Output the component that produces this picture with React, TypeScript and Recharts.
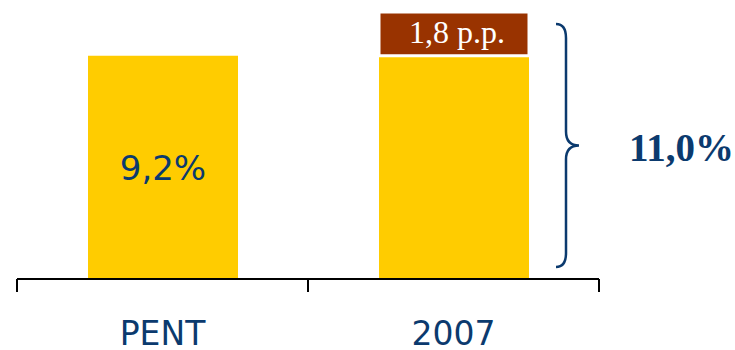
import { Bar, BarChart, LabelList, XAxis, YAxis } from "recharts";

const CATEGORIES = ["PENT", "2007"];
const BASE = [9.2, 9.2];
const INCREMENT = [0, 1.8];
const BASE_LABELS = ["9,2%", ""];
const INCREMENT_LABELS = ["", "1,8 p.p."];
const TOTAL_LABEL = "11,0%";
const Y_MAX = 11.0;

const W = 735;
const H = 350;
const MARGIN = { top: 12, right: 136, bottom: 0, left: 17 };
const X_AXIS_H = 71;
const PLOT_BOTTOM = H - X_AXIS_H;

const NAVY = "#0B3A6E";
const YELLOW = "#FFCC00";
const BROWN = "#993300";
const SANS = "'DejaVu Sans', Verdana, sans-serif";
const SERIF = "'Liberation Serif', 'Times New Roman', serif";

const data = CATEGORIES.map((name, i) => ({
  name,
  base: BASE[i],
  increment: INCREMENT[i],
  baseLabel: BASE_LABELS[i],
  incLabel: INCREMENT_LABELS[i],
}));

/** Category label plus Excel-style tick marks at the band boundaries. */
function CategoryTick(props: any) {
  const { x, payload } = props;
  const band = (W - MARGIN.left - MARGIN.right) / CATEGORIES.length;
  const left = x - band / 2;
  const isLast = CATEGORIES.indexOf(payload.value) === CATEGORIES.length - 1;
  return (
    <g>
      <line x1={left} y1={PLOT_BOTTOM} x2={left} y2={PLOT_BOTTOM + 13} stroke="#000" strokeWidth={2} />
      {isLast && (
        <line
          x1={left + band}
          y1={PLOT_BOTTOM}
          x2={left + band}
          y2={PLOT_BOTTOM + 13}
          stroke="#000"
          strokeWidth={2}
        />
      )}
      <text x={x} y={PLOT_BOTTOM + 66} textAnchor="middle" fill={NAVY} fontFamily={SANS} fontSize={33}>
        {payload.value}
      </text>
    </g>
  );
}

function BaseLabel(props: any) {
  const { x, y, width, height, value } = props;
  if (!value) return null;
  return (
    <text
      x={x + width / 2}
      y={y + height / 2}
      dy="0.36em"
      textAnchor="middle"
      fill={NAVY}
      fontFamily={SANS}
      fontSize={34}
    >
      {value}
    </text>
  );
}

/** Increment label, plus the brace and total to the right of the stack. */
function IncrementLabel(props: any) {
  const { x, y, width, height, value } = props;
  const i = INCREMENT_LABELS.indexOf(value);
  if (!value || i < 0 || !height) return null;
  const pxPerUnit = Math.abs(height) / INCREMENT[i];
  const top = Math.min(y, y + height);
  const bottom = top + Math.abs(height) + BASE[i] * pxPerUnit;
  const right = x + width;
  const ty = top + 12;
  const by = bottom - 12;
  const mid = (ty + by) / 2;
  const x0 = right + 27;
  const xs = right + 37;
  const xt = right + 50;
  const r = 14;
  const d = [
    `M ${x0} ${ty}`,
    `Q ${xs} ${ty} ${xs} ${ty + r}`,
    `L ${xs} ${mid - r}`,
    `Q ${xs} ${mid} ${xt} ${mid}`,
    `Q ${xs} ${mid} ${xs} ${mid + r}`,
    `L ${xs} ${by - r}`,
    `Q ${xs} ${by} ${x0} ${by}`,
  ].join(" ");
  return (
    <g>
      <text
        x={x + width / 2 + 3}
        y={top + Math.abs(height) / 2}
        dy="0.3em"
        textAnchor="middle"
        fill="#fff"
        fontFamily={SERIF}
        fontSize={32}
      >
        {value}
      </text>
      <path d={d} fill="none" stroke={NAVY} strokeWidth={2.5} />
      <text
        x={right + 100}
        y={mid + 15}
        textAnchor="start"
        fill={NAVY}
        fontFamily={SERIF}
        fontWeight="bold"
        fontSize={39}
      >
        {TOTAL_LABEL}
      </text>
    </g>
  );
}

export default function App() {
  return (
    <div style={{ position: "absolute", left: 0, top: 0, width: W, height: H, background: "#fff" }}>
      <BarChart width={W} height={H} data={data} margin={MARGIN} barSize={150} barGap={0}>
        <XAxis
          dataKey="name"
          height={X_AXIS_H}
          tickLine={false}
          tickSize={12}
          axisLine={{ stroke: "#000", strokeWidth: 2 }}
          tick={<CategoryTick />}
          interval={0}
        />
        <YAxis hide domain={[0, Y_MAX]} />
        <Bar dataKey="base" stackId="a" fill={YELLOW} isAnimationActive={false}>
          <LabelList dataKey="baseLabel" content={<BaseLabel />} />
        </Bar>
        <Bar
          dataKey="increment"
          stackId="a"
          fill={BROWN}
          stroke="#fff"
          strokeWidth={3}
          isAnimationActive={false}
        >
          <LabelList dataKey="incLabel" content={<IncrementLabel />} />
        </Bar>
      </BarChart>
    </div>
  );
}
